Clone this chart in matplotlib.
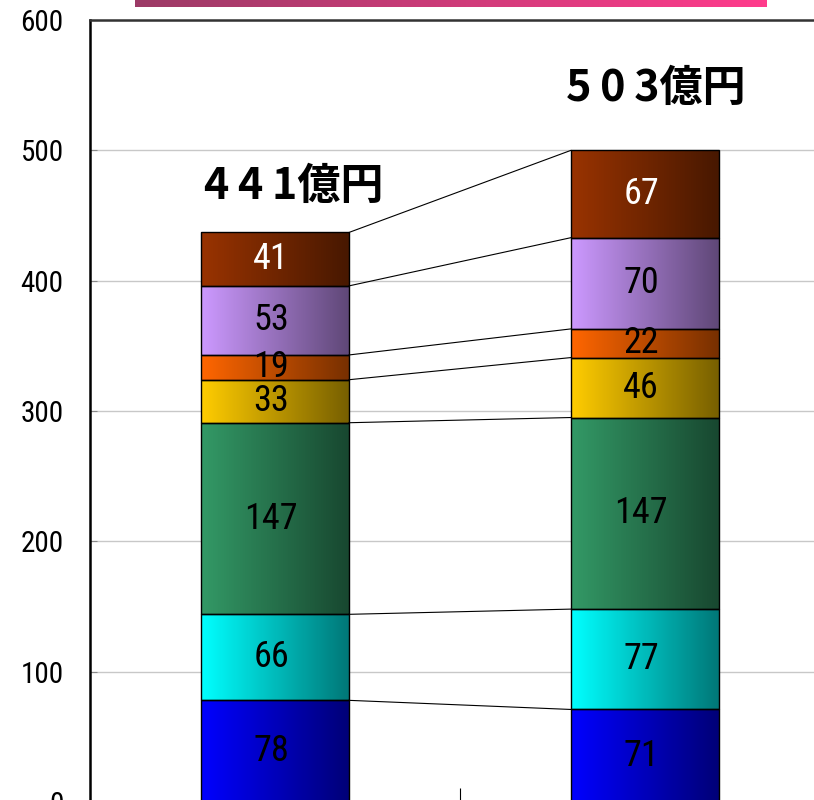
import numpy as np
import matplotlib
matplotlib.use("Agg")
import matplotlib.pyplot as plt
from matplotlib import colors as mcolors
from matplotlib.patches import Rectangle
from matplotlib import font_manager

# data (bottom -> top)
bar_positions = [0, 1]
left_values = [78, 66, 147, 33, 19, 53, 41]
right_values = [71, 77, 147, 46, 22, 70, 67]
total_labels = ["4\u20094\u20091億円", "5\u20090\u20093億円"]
seg_colors = ["#0000FF", "#00FFFF", "#339966", "#FFCC00", "#FF6600", "#CC99FF", "#993300"]
label_colors = ["black", "black", "black", "black", "black", "black", "white"]
y_ticks = [0, 100, 200, 300, 400, 500, 600]

jp_font = ["Noto Sans CJK JP", "DejaVu Sans"]
names = sorted({f.name for f in font_manager.fontManager.ttflist})
num_font = "DejaVu Sans"
for cand in ["Liberation Sans Narrow", "Arial Narrow", "Roboto Condensed", "Open Sans Condensed", "DejaVu Sans Condensed"]:
    if cand in names:
        num_font = cand
        break


def gradient_box(ax, x0, x1, y0, y1, color, dark=0.47, n=64):
    c = np.array(mcolors.to_rgb(color))
    t = np.linspace(0, 1, n)[:, None]
    row = c * (1 - t) + c * dark * t
    ax.imshow(row[None, :, :], extent=[x0, x1, y0, y1], aspect="auto",
              interpolation="bilinear", zorder=2)
    ax.add_patch(Rectangle((x0, y0), x1 - x0, y1 - y0, fill=False,
                           edgecolor="black", linewidth=1.0, zorder=3))


W, H = 814, 800
fig = plt.figure(figsize=(W / 100, H / 100), dpi=100)
ax = fig.add_axes([90 / W, -2 / H, 740 / W, 782 / H])

bar_w = 0.4
all_values = [left_values, right_values]
for xi, vals in zip(bar_positions, all_values):
    bottom = 0
    for v, col, lc in zip(vals, seg_colors, label_colors):
        gradient_box(ax, xi - bar_w / 2, xi + bar_w / 2, bottom, bottom + v, col)
        ax.text(xi - 0.01, bottom + v / 2, str(v), ha="center", va="center",
                fontsize=26, color=lc, family=num_font, fontstretch="condensed", zorder=4)
        bottom += v

# connector lines between segment boundaries
cum_l = np.cumsum(left_values)
cum_r = np.cumsum(right_values)
for a, b in zip(cum_l, cum_r):
    ax.plot([bar_positions[0] + bar_w / 2, bar_positions[1] - bar_w / 2], [a, b],
            color="black", linewidth=0.8, zorder=3)

# totals
label_dx = [0.05, 0.03]
label_dy = [36, 48]
for xi, tot, txt, dx, dy in zip(bar_positions, [cum_l[-1], cum_r[-1]], total_labels, label_dx, label_dy):
    ax.text(xi + dx, tot + dy, txt, ha="center", va="center", fontsize=31,
            fontweight="bold", family=jp_font, zorder=4)

ax.set_xlim(-0.5, 1.5)
ax.set_ylim(0, 600)
ax.set_yticks(y_ticks)
ax.set_yticklabels([str(t) for t in y_ticks], family=num_font,
                   fontstretch="condensed", fontsize=21)
ax.set_xticks([0.5])
ax.set_xticklabels([""])
ax.tick_params(axis="y", direction="in", length=5, color="#888888", pad=19)
ax.tick_params(axis="x", direction="in", length=10, color="black")
ax.yaxis.grid(True, color="#c8c8c8", linewidth=1.0, zorder=0)
ax.set_axisbelow(True)
ax.spines["left"].set_linewidth(1.8)
ax.spines["left"].set_color("black")
ax.spines["top"].set_linewidth(1.8)
ax.spines["top"].set_color("#333333")
ax.spines["right"].set_visible(False)

# decorative gradient strip at the top
bx = fig.add_axes([135 / W, 1 - 7 / H, (767 - 135) / W, 7 / H])
c0 = np.array(mcolors.to_rgb("#9c3a66"))
c1 = np.array(mcolors.to_rgb("#ff3c8c"))
t = np.linspace(0, 1, 128)[:, None]
bx.imshow((c0 * (1 - t) + c1 * t)[None, :, :], aspect="auto", extent=[0, 1, 0, 1])
bx.axis("off")

fig.savefig("out.png", dpi=100)
